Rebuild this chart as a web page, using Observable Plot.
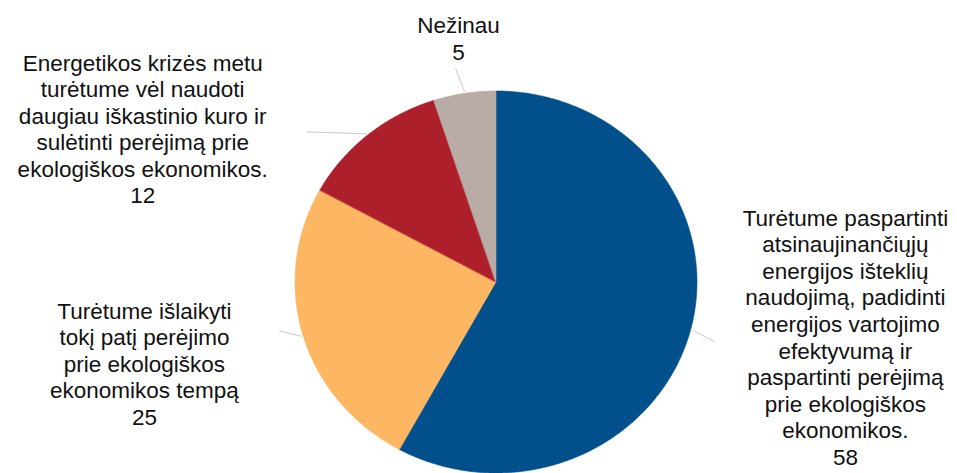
<!DOCTYPE html>
<html>
<head>
<meta charset="utf-8">
<script src="https://cdn.jsdelivr.net/npm/d3@7"></script>
<script src="https://cdn.jsdelivr.net/npm/@observablehq/plot@0.6"></script>
<style>
  html, body { margin: 0; padding: 0; background: #fff; }
  #chart { width: 957px; height: 473px; overflow: hidden; }
</style>
</head>
<body>
<div id="chart"></div>
<script>
// ---- data ----
const categories = [
  "Turėtume paspartinti\natsinaujinančiųjų\nenergijos išteklių\nnaudojimą, padidinti\nenergijos vartojimo\nefektyvumą ir\npaspartinti perėjimą\nprie ekologiškos\nekonomikos.",
  "Turėtume išlaikyti\ntokį patį perėjimo\nprie ekologiškos\nekonomikos tempą",
  "Energetikos krizės metu\nturėtume vėl naudoti\ndaugiau iškastinio kuro ir\nsulėtinti perėjimą prie\nekologiškos ekonomikos.",
  "Nežinau"
];
const values = [58, 25, 12, 5];
const colors = ["#02508b", "#fdb662", "#ad1f2a", "#b9aca6"];

// ---- label layout (polar nudges relative to slice mid-angle, radius in pie units) ----
const labelNudge = [-5.1, 2.6, -25.8, 0.6];
const labelRadius = [1.759, 1.802, 1.936, 1.294];
const elbowNudge = [1.5, 3.0, -10.5, -1.3];
const elbowRadius = [1.126, 1.11, 1.23, 1.14];

// ---- derived geometry ----
const total = d3.sum(values);
const rad = (deg) => deg * Math.PI / 180;
let acc = 0;
const slices = values.map((v, i) => {
  const a0 = acc / total * 360;
  acc += v;
  const a1 = acc / total * 360;
  return {i, cat: categories[i], value: v, a0, a1, mid: (a0 + a1) / 2};
});

const arcPts = [];
for (const s of slices) {
  const n = Math.max(2, Math.ceil((s.a1 - s.a0) / 0.5));
  for (let k = 0; k <= n; k++) {
    const a = rad(s.a0 + (s.a1 - s.a0) * k / n);
    arcPts.push({i: s.i, x: Math.sin(a), y: Math.cos(a)});
  }
}

const labels = slices.map(s => {
  const a = rad(s.mid + labelNudge[s.i]);
  const r = labelRadius[s.i];
  return {i: s.i, x: r * Math.sin(a), y: r * Math.cos(a), text: s.cat + "\n" + s.value};
});

const leaders = slices.map(s => {
  const a = rad(s.mid);
  const b = rad(s.mid + elbowNudge[s.i]);
  const rb = elbowRadius[s.i];
  return {i: s.i, x1: 1.01 * Math.sin(a), y1: 1.01 * Math.cos(a), x2: rb * Math.sin(b), y2: rb * Math.cos(b)};
});

const chart = Plot.plot({
  width: 957,
  height: 473,
  marginLeft: 295,
  marginRight: 260,
  marginTop: 91,
  marginBottom: 0,
  x: {domain: [-1, 1], axis: null},
  y: {domain: [-1, 1], axis: null},
  color: {domain: d3.range(values.length), range: colors},
  style: {fontFamily: "'Liberation Sans', Arial, sans-serif", background: "#fff", overflow: "visible"},
  marks: [
    Plot.link(leaders, {x1: "x1", y1: "y1", x2: "x2", y2: "y2", stroke: "#c9c9c9", strokeWidth: 1}),
    Plot.area(arcPts, {x1: 0, y1: 0, x2: "x", y2: "y", z: "i", fill: "i", stroke: "i", strokeWidth: 0.6, curve: "linear"}),
    Plot.text(labels, {x: "x", y: "y", text: "text", fontSize: 22.5, lineHeight: 1.18, fill: "#111", textAnchor: "middle", lineAnchor: "middle"})
  ]
});
document.getElementById("chart").appendChild(chart);
</script>
</body>
</html>
